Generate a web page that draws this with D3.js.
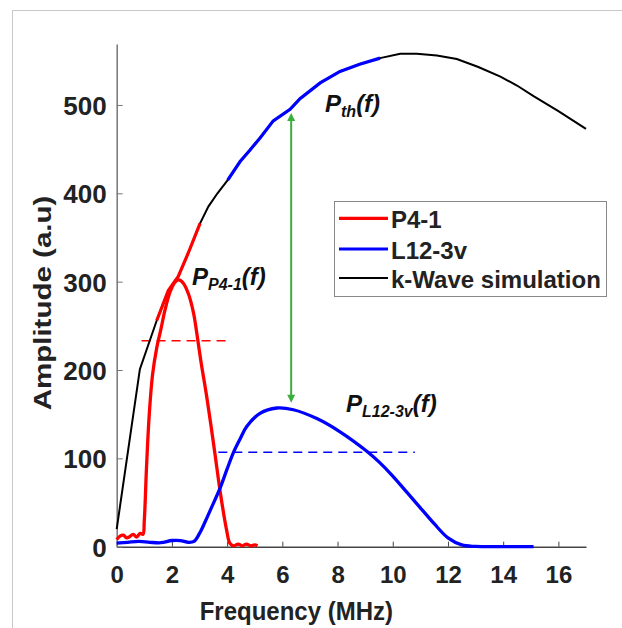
<!DOCTYPE html>
<html lang="en">
<head>
  <meta charset="utf-8">
  <title>Pth vs transducer spectra</title>
  <script src="https://cdnjs.cloudflare.com/ajax/libs/d3/7.8.5/d3.min.js"></script>
  <style>
    body { margin: 0; background: #fff; }
    text { font-family: "Liberation Sans", Arial, sans-serif; font-weight: bold; fill: #222; }
    .note { font-family: "Liberation Sans", Arial, sans-serif; font-style: italic; font-weight: bold; fill: #111; }
  </style>
</head>
<body>
<div id="chart"></div>
<script>
// k-Wave simulation threshold curve Pth(f)
var pthFreq = [0, 0.84, 1.45, 1.87, 2.23, 2.6, 3.02, 3.32, 3.65, 4.02, 4.47, 4.83, 5.2, 5.67, 6.28, 6.64, 7.37, 8.09, 8.8, 9.54, 10.27, 10.87, 11.6, 12.32, 13.1, 13.9, 14.5, 15.1, 16.0, 17.0];
var pthAmp  = [20, 201, 256, 290, 306, 333, 366, 385, 400, 415, 436, 449, 463, 482, 495, 507, 525, 538, 546, 553, 558, 558, 556, 552, 543, 532, 522, 510, 493, 473];

// bands of Pth drawn in the transducer colour
var p41Band = [1.45, 3.02];
var l12Band = [4.02, 9.54];

// P4-1 spectrum
var p41Freq = [0, 0.12, 0.24, 0.36, 0.45, 0.6, 0.72, 0.85, 0.95, 1.0, 1.08, 1.18, 1.3, 1.45, 1.6, 1.75, 1.93, 2.1, 2.25, 2.42, 2.6, 2.78, 2.9, 3.05, 3.26, 3.56, 3.75, 3.98, 4.1, 4.25, 4.4, 4.55, 4.7, 4.85, 5.0, 5.1];
var p41Amp  = [8, 12, 13, 10, 11, 14, 11, 15, 14, 30, 90, 150, 195, 225, 246, 268, 288, 299, 302, 298, 286, 265, 242, 210, 170, 105, 62, 19, 4, 1, 3, 1, 3, 1, 2, 1];

// L12-3v spectrum
var l12Freq = [0, 0.4, 0.8, 1.2, 1.6, 2.0, 2.3, 2.6, 2.8, 3.0, 3.2, 3.4, 3.74, 4.0, 4.22, 4.47, 4.71, 5.19, 5.8, 6.4, 7.25, 8.09, 9.06, 9.5, 10.0, 10.5, 11.0, 11.5, 12.0, 12.5, 13.0, 13.9, 14.5, 15.1];
var l12Amp  = [4, 5, 6, 5, 4.5, 7, 7, 5, 6, 15, 28, 42, 66, 88, 106, 122, 136, 151, 157, 155, 145, 130, 108, 96, 80, 62, 44, 26, 10, 2, 0.3, 0, 0, 0];

// dashed levels [fStart, fEnd, amplitude]
var p41Level = [0.9, 4.0, 233];
var l12Level = [3.68, 10.8, 107];

// double arrow between Pth and P_L12-3v
var arrowFreq = 6.32;
var arrowAmp = [163, 491];

var xTicks = [0, 2, 4, 6, 8, 10, 12, 14, 16];
var yTicks = [0, 100, 200, 300, 400, 500];
var legendNames = ["P4-1", "L12-3v", "k-Wave simulation"];
var legendColors = ["#ff0000", "#0000ff", "#000000"];

var width = 622, height = 628;

var svg = d3.select("#chart").append("svg")
  .attr("width", width)
  .attr("height", height);

// light frame around the figure
svg.append("rect")
  .attr("x", 12.5).attr("y", 10.5)
  .attr("width", 700).attr("height", 700)
  .attr("fill", "none").attr("stroke", "#c8c8c8");

var x = d3.scaleLinear().domain([0, 17]).range([116.7, 586]);
var y = d3.scaleLinear().domain([0, 569]).range([546.7, 44]);

// axes
var xAxis = svg.append("g")
  .attr("transform", "translate(0," + y(0) + ")")
  .call(d3.axisBottom(x).tickValues(xTicks).tickSize(-5).tickSizeOuter(0));
xAxis.select(".domain").attr("stroke", "#444").attr("stroke-width", 1.5);
xAxis.selectAll(".tick line").attr("stroke", "#444");
xAxis.selectAll("text")
  .attr("y", 36).attr("dy", null)
  .style("font-size", "24px").attr("fill", "#222");

var yAxis = svg.append("g")
  .attr("transform", "translate(" + x(0) + ",0)")
  .call(d3.axisLeft(y).tickValues(yTicks).tickSize(-6).tickSizeOuter(0));
yAxis.select(".domain").attr("stroke", "#777").attr("stroke-width", 1.5);
yAxis.selectAll(".tick line").attr("stroke", "#777");
yAxis.selectAll("text")
  .attr("x", -10).attr("dy", "0.36em")
  .style("font-size", "26px").attr("fill", "#222");

svg.append("text")
  .attr("text-anchor", "middle")
  .attr("transform", "translate(" + (x(8.5) - 55) + ",620) scale(1,1.1)")
  .style("font-size", "24px")
  .text("Frequency (MHz)");

svg.append("text")
  .attr("text-anchor", "middle")
  .attr("transform", "translate(51,303) rotate(-90) scale(1.23,1)")
  .style("font-size", "24px")
  .text("Amplitude (a.u)");

// data lines
var line = d3.line().x(d => x(d[0])).y(d => y(d[1]));
var smooth = d3.line().x(d => x(d[0])).y(d => y(d[1])).curve(d3.curveCatmullRom.alpha(0.5));

var pth = pthFreq.map((f, i) => [f, pthAmp[i]]);
var p41 = p41Freq.map((f, i) => [f, p41Amp[i]]);
var l12 = l12Freq.map((f, i) => [f, l12Amp[i]]);

// dashed levels
[[p41Level, "#ff0000"], [l12Level, "#0000ff"]].forEach(function(d) {
  svg.append("line")
    .attr("x1", x(d[0][0])).attr("x2", x(d[0][1]))
    .attr("y1", y(d[0][2])).attr("y2", y(d[0][2]))
    .attr("stroke", d[1]).attr("stroke-width", 1.5)
    .attr("stroke-dasharray", "9,6");
});

svg.append("path").datum(pth)
  .attr("d", line).attr("fill", "none")
  .attr("stroke", "#000").attr("stroke-width", 2);

svg.append("path").datum(pth.filter(d => d[0] >= p41Band[0] && d[0] <= p41Band[1]))
  .attr("d", line).attr("fill", "none")
  .attr("stroke", "#ff0000").attr("stroke-width", 3.2);

svg.append("path").datum(pth.filter(d => d[0] >= l12Band[0] && d[0] <= l12Band[1]))
  .attr("d", line).attr("fill", "none")
  .attr("stroke", "#0000ff").attr("stroke-width", 3.2);

svg.append("path").datum(p41)
  .attr("d", smooth).attr("fill", "none")
  .attr("stroke", "#ff0000").attr("stroke-width", 3.3)
  .attr("stroke-linejoin", "round");

svg.append("path").datum(l12)
  .attr("d", smooth).attr("fill", "none")
  .attr("stroke", "#0000ff").attr("stroke-width", 3.3)
  .attr("stroke-linejoin", "round");

// green arrow
var green = "#3cae3c";
var ax = x(arrowFreq), aTop = y(arrowAmp[1]), aBot = y(arrowAmp[0]);
svg.append("line")
  .attr("x1", ax).attr("x2", ax)
  .attr("y1", aTop + 6).attr("y2", aBot - 6)
  .attr("stroke", green).attr("stroke-width", 2);
svg.append("path")
  .attr("d", "M" + ax + "," + aTop + " l-4,8 l8,0 z")
  .attr("fill", green);
svg.append("path")
  .attr("d", "M" + ax + "," + aBot + " l-4,-8 l8,0 z")
  .attr("fill", green);

// annotations
function note(px, py, sub) {
  var t = svg.append("text").attr("class", "note")
    .attr("x", px).attr("y", py)
    .style("font-size", "24px");
  t.append("tspan").text("P");
  t.append("tspan").attr("dy", 5).style("font-size", "16px").text(sub);
  t.append("tspan").attr("dy", -5).text("(f)");
}
note(325, 112, "th");
note(192, 285, "P4-1");
note(346, 412, "L12-3v");

// legend
var legend = svg.append("g");
legend.append("rect")
  .attr("x", 334.5).attr("y", 201.5)
  .attr("width", 272).attr("height", 95)
  .attr("fill", "#fff").attr("stroke", "#888");
var rowY = [218.3, 249, 278];
legendNames.forEach(function(name, i) {
  legend.append("line")
    .attr("x1", 339).attr("x2", 388)
    .attr("y1", rowY[i]).attr("y2", rowY[i])
    .attr("stroke", legendColors[i])
    .attr("stroke-width", i < 2 ? 3.2 : 2);
  legend.append("text")
    .attr("x", 391).attr("y", rowY[i] + 10)
    .style("font-size", "24px")
    .text(name);
});
</script>
</body>
</html>
